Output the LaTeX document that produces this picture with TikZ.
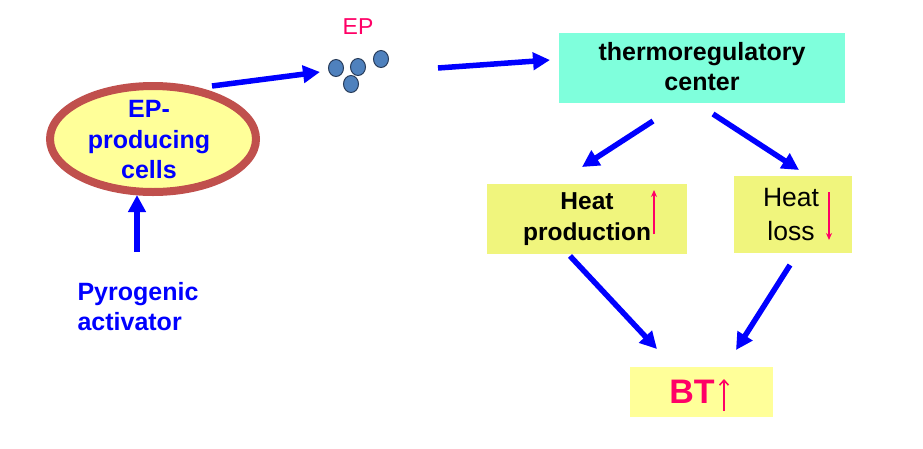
\documentclass[tikz,border=0pt]{standalone}
\usepackage{fontspec}
\setmainfont{Liberation Sans}
\usetikzlibrary{arrows.meta,shapes.geometric}
\definecolor{epblue}{RGB}{0,0,255}
\definecolor{eppink}{RGB}{255,0,102}
\definecolor{ellred}{RGB}{192,80,77}
\definecolor{ellfill}{RGB}{255,255,153}
\definecolor{dotblue}{RGB}{79,129,189}
\definecolor{dotedge}{RGB}{40,60,90}
\definecolor{cyanbox}{RGB}{127,255,220}
\definecolor{yelbox}{RGB}{240,245,125}
\definecolor{btbox}{RGB}{255,255,153}
\tikzset{
  bigarrow/.style={draw=epblue,line width=5.5pt,-{Triangle[length=17pt,width=17pt]}},
  thinarrow/.style={draw=eppink,line width=1.6pt,-{Stealth[length=7pt,width=6pt]}},
  dot/.style={ellipse,draw=dotedge,line width=1pt,fill=dotblue,minimum width=15pt,minimum height=17pt,inner sep=0pt},
  boxstyle/.style={rectangle,inner sep=0pt},
}
\begin{document}
\begin{tikzpicture}[x=1pt,y=-1pt]
\useasboundingbox (0,0) rectangle (923,448);
% ellipse
\node[ellipse,draw=ellred,line width=8pt,fill=ellfill,minimum width=206pt,minimum height=106pt,inner sep=0pt] (cells) at (153,139) {};
\node[align=center,text=epblue,font=\bfseries\fontsize{25}{30.5}\selectfont] (cellstext) at (149,140) {EP-\\producing\\cells};
% pyrogenic
\node[align=left,anchor=west,text=epblue,font=\bfseries\fontsize{25}{30}\selectfont] (pyro) at (74,307) {Pyrogenic\\activator};
\coordinate (pyrotop) at (137,252);
\coordinate (cellsbot) at (137,195);
\draw[bigarrow] (pyrotop) -- (cellsbot);
% EP
\node[text=eppink,font=\fontsize{23}{27}\selectfont] (eplabel) at (358,27) {EP};
\node[dot] (d1) at (336,68) {};
\node[dot] (d2) at (358,67) {};
\node[dot] (d3) at (381,59) {};
\node[dot] (d4) at (351,84) {};
\coordinate (c1s) at (212,86);
\coordinate (c1e) at (320,72);
\draw[bigarrow] (c1s) -- (c1e);
\coordinate (c2s) at (438,68);
\coordinate (c2e) at (550,60);
\draw[bigarrow] (c2s) -- (c2e);
% thermoregulatory center
\node[boxstyle,fill=cyanbox,minimum width=286pt,minimum height=70pt] (thermo) at (702,68) {};
\node[align=center,font=\bfseries\fontsize{25}{30}\selectfont] (thermotext) at (702,67) {thermoregulatory\\center};
% heat production
\node[boxstyle,fill=yelbox,minimum width=200pt,minimum height=70pt] (hp) at (587,219) {};
\node[align=center,font=\bfseries\fontsize{24.5}{31}\selectfont] (hptext) at (587,219) {Heat\\production};
\coordinate (hpas) at (654,234);
\coordinate (hpae) at (654,190);
\draw[thinarrow] (hpas) -- (hpae);
% heat loss
\node[boxstyle,fill=yelbox,minimum width=118pt,minimum height=77pt] (hl) at (793,214.5) {};
\node[align=center,font=\fontsize{26.5}{34}\selectfont] (hltext) at (791,215) {Heat\\loss};
\coordinate (hlas) at (829,192);
\coordinate (hlae) at (829,240);
\draw[thinarrow] (hlas) -- (hlae);
% BT
\node[boxstyle,fill=btbox,minimum width=143pt,minimum height=50pt] (bt) at (701.5,392) {};
\node[text=eppink,font=\bfseries\fontsize{34}{40}\selectfont] (bttext) at (692,392) {BT};
\coordinate (btas) at (724,411);
\coordinate (btae) at (724,379);
\draw[eppink,line width=1.6pt,-{Straight Barb[length=5pt,width=9pt]}] (btas) -- (btae);
% arrows
\coordinate (t1s) at (653,121);
\coordinate (t1e) at (582,167);
\draw[bigarrow] (t1s) -- (t1e);
\coordinate (t2s) at (713,114);
\coordinate (t2e) at (799,170);
\draw[bigarrow] (t2s) -- (t2e);
\coordinate (b1s) at (570,256);
\coordinate (b1e) at (657,349);
\draw[bigarrow] (b1s) -- (b1e);
\coordinate (b2s) at (790,265);
\coordinate (b2e) at (736,350);
\draw[bigarrow] (b2s) -- (b2e);
\end{tikzpicture}
\end{document}
